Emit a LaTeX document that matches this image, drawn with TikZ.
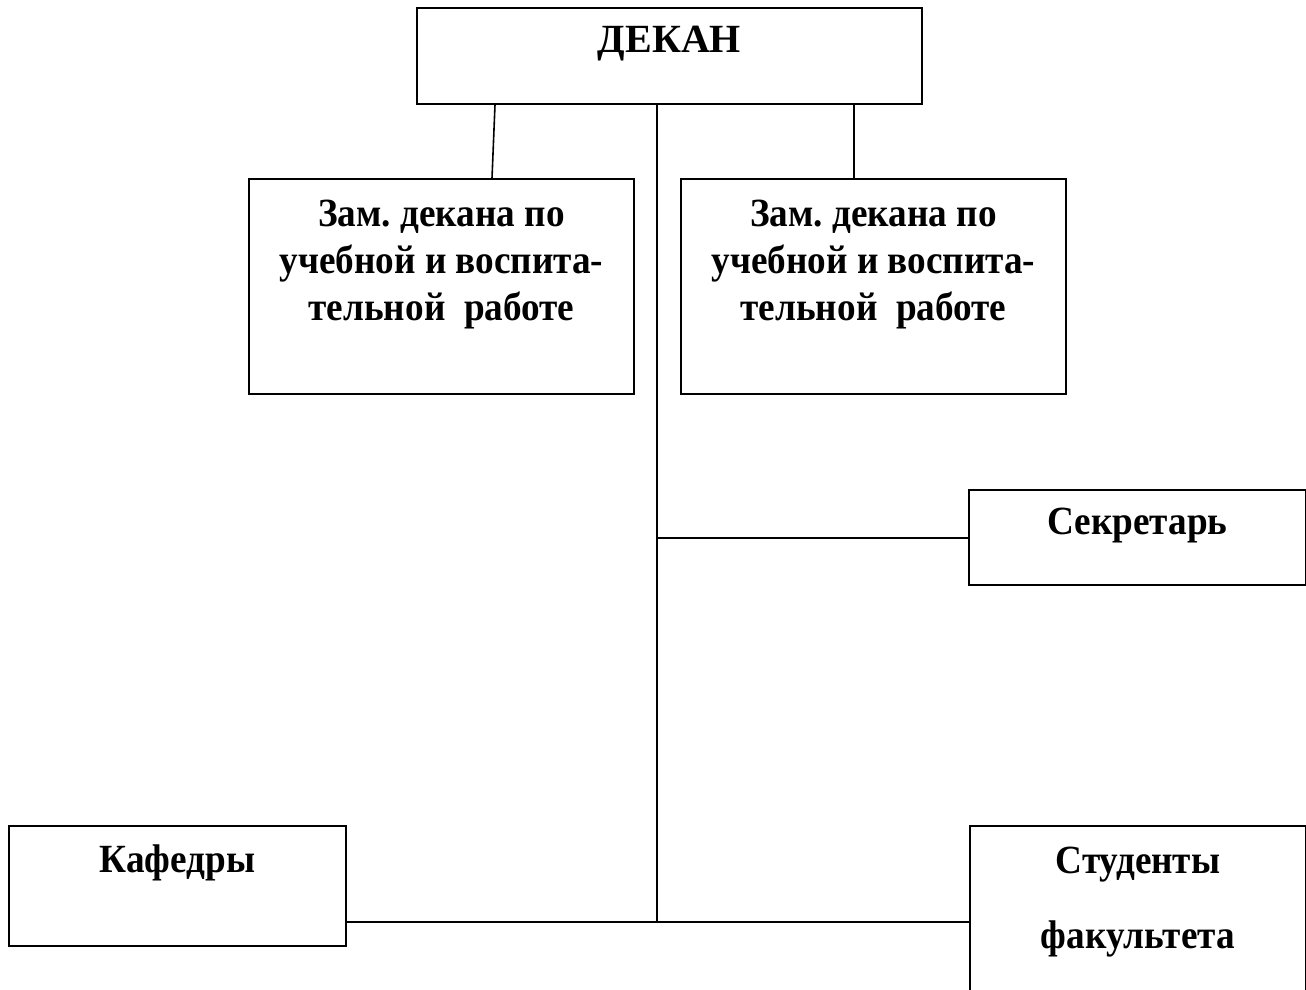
\documentclass[tikz,border=0pt]{standalone}
\usepackage{fontspec}
\setmainfont[FakeStretch=0.93]{Liberation Serif}
\newfontfamily\widefont{Liberation Serif}
\frenchspacing
\begin{document}
\begin{tikzpicture}[x=1pt,y=-1pt,
  box/.style={draw,line width=1.6pt,rectangle,inner sep=0pt},
  txt/.style={anchor=base,inner sep=0pt,font=\fontsize{40}{47}\selectfont\bfseries},
  link/.style={line width=1.6pt}]
\useasboundingbox (0,0) rectangle (1306,989);
% boxes
\node[box,minimum width=505pt,minimum height=96pt] (dekan) at (669.5,56) {};
\node[box,minimum width=385pt,minimum height=215pt] (zamL) at (441.5,286.5) {};
\node[box,minimum width=385pt,minimum height=215pt] (zamR) at (873.5,286.5) {};
\node[box,minimum width=337pt,minimum height=95pt] (sekr) at (1137.5,537.5) {};
\node[box,minimum width=337pt,minimum height=120pt] (kaf) at (177.5,886) {};
\node[box,minimum width=336pt,minimum height=234pt] (stud) at (1138,943) {};
% texts
\node[txt,font=\fontsize{40}{47}\selectfont\widefont\bfseries] (tDekan) at (669.5,52) {ДЕКАН};
\node[txt] (tL1) at (441.5,226) {Зам. декана по};
\node[txt] (tL2) at (441.5,273) {учебной и воспита-};
\node[txt] (tL3) at (441.5,320) {тельной~~работе};
\node[txt] (tR1) at (873.5,226) {Зам. декана по};
\node[txt] (tR2) at (873.5,273) {учебной и воспита-};
\node[txt] (tR3) at (873.5,320) {тельной~~работе};
\node[txt] (tSekr) at (1137.5,534) {Секретарь};
\node[txt] (tKaf) at (177.5,872) {Кафедры};
\node[txt] (tStud1) at (1138,873) {Студенты};
\node[txt] (tStud2) at (1138,948) {факультета};
% junctions
\coordinate (jTop) at (dekan.south -| 657,0);
\coordinate (jSekr) at (657,538);
\coordinate (jBot) at (657,922);
% connectors
\draw[link] (dekan.south -| 495,0) -- (zamL.north -| 492,0);
\draw[link] (dekan.south -| 854,0) -- (zamR.north -| 854,0);
\draw[link] (jTop) -- (jBot);
\draw[link] (jSekr) -- (jSekr -| sekr.west);
\draw[link] (kaf.east |- jBot) -- (stud.west |- jBot);
\end{tikzpicture}
\end{document}
